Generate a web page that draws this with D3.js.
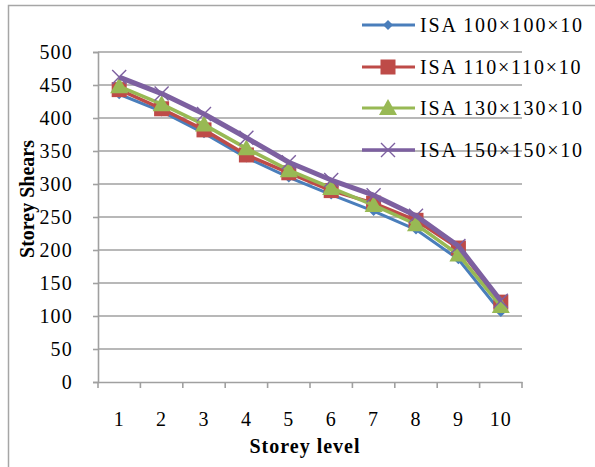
<!DOCTYPE html>
<html>
<head>
<meta charset="utf-8">
<script src="https://cdn.jsdelivr.net/npm/d3@7"></script>
<style>
  html, body { margin: 0; padding: 0; background: #fff; }
  svg { display: block; }
  text { font-family: "Liberation Serif", "Times New Roman", serif; fill: #000; }
</style>
</head>
<body>
<svg id="chart" width="595" height="467"></svg>
<script>
// Storey levels along the x axis
const storeys = [1, 2, 3, 4, 5, 6, 7, 8, 9, 10];

// Storey shear for each angle section
const isa100 = [436, 410, 377, 340, 310, 284, 259, 231, 186, 106];
const isa110 = [443, 414, 382, 344, 317, 290, 271, 245, 203, 121];
const isa130 = [448, 421, 390, 354, 321, 294, 268, 239, 193, 115];
const isa150 = [462, 437, 406, 370, 333, 306, 283, 252, 206, 123];

const seriesNames = ["ISA 100×100×10", "ISA 110×110×10", "ISA 130×130×10", "ISA 150×150×10"];
const yTicks = [0, 50, 100, 150, 200, 250, 300, 350, 400, 450, 500];

const series = [
  { name: seriesNames[0], values: isa100, color: "#4a7ebb", marker: "diamond", width: 3 },
  { name: seriesNames[1], values: isa110, color: "#be4b48", marker: "square", width: 3.5 },
  { name: seriesNames[2], values: isa130, color: "#98b954", marker: "triangle", width: 3.5 },
  { name: seriesNames[3], values: isa150, color: "#7d60a0", marker: "cross", width: 5 }
];

const gridColor = "#a0a0a0";
const svg = d3.select("#chart");

// outer chart border
svg.append("rect")
  .attr("x", 8.5).attr("y", 5.5)
  .attr("width", 600).attr("height", 500)
  .attr("fill", "none").attr("stroke", "#a6a6a6").attr("stroke-width", 1.5);

const plot = { left: 98, right: 522, top: 52, bottom: 382 };

const x = d3.scaleBand().domain(storeys).range([plot.left, plot.right]);
const y = d3.scaleLinear().domain([0, 500]).range([plot.bottom, plot.top]);

// horizontal gridlines
svg.append("g")
  .selectAll("line")
  .data(yTicks.filter(d => d > 0))
  .join("line")
  .attr("x1", plot.left).attr("x2", plot.right)
  .attr("y1", d => y(d)).attr("y2", d => y(d))
  .attr("stroke", gridColor).attr("stroke-width", 1.6);

// y axis
const yAxis = svg.append("g")
  .attr("transform", `translate(${plot.left},0)`)
  .call(d3.axisLeft(y).tickValues(yTicks).tickSize(5).tickPadding(20));
yAxis.select(".domain").attr("stroke", gridColor).attr("stroke-width", 1.6);
yAxis.selectAll(".tick line").attr("stroke", gridColor).attr("stroke-width", 1.6);
yAxis.selectAll(".tick text")
  .attr("font-family", "Liberation Serif, serif")
  .attr("font-size", 20).attr("letter-spacing", 1.2).attr("fill", "#000");

// x axis with ticks at category boundaries
const xAxis = svg.append("g")
  .attr("transform", `translate(0,${plot.bottom})`)
  .call(d3.axisBottom(x).tickSize(0).tickPadding(30));
xAxis.select(".domain").attr("stroke", gridColor).attr("stroke-width", 1.6);
xAxis.selectAll(".tick text")
  .attr("font-family", "Liberation Serif, serif")
  .attr("font-size", 20).attr("letter-spacing", 1).attr("fill", "#000");
xAxis.append("g")
  .selectAll("line")
  .data(storeys.map(s => x(s)).concat([x(storeys[storeys.length - 1]) + x.bandwidth()]))
  .join("line")
  .attr("x1", d => d).attr("x2", d => d)
  .attr("y1", 0).attr("y2", 6)
  .attr("stroke", gridColor).attr("stroke-width", 1.6);

// axis titles
svg.append("text")
  .attr("x", 305).attr("y", 453)
  .attr("text-anchor", "middle")
  .attr("font-size", 20).attr("font-weight", "bold")
  .attr("letter-spacing", 1)
  .text("Storey level");

svg.append("text")
  .attr("transform", "translate(34,199) rotate(-90)")
  .attr("text-anchor", "middle")
  .attr("font-size", 20).attr("font-weight", "bold")
  .attr("letter-spacing", 0)
  .text("Storey Shears");

// marker shapes
function drawMarker(g, type, color) {
  if (type === "diamond") {
    g.append("path").attr("d", "M0,-5L5,0L0,5L-5,0Z").attr("fill", color);
  } else if (type === "square") {
    g.append("rect").attr("x", -7.5).attr("y", -7.5).attr("width", 15).attr("height", 15).attr("fill", color);
  } else if (type === "triangle") {
    g.append("path").attr("d", "M0,-9L9,7L-9,7Z").attr("fill", color);
  } else if (type === "cross") {
    g.append("path").attr("d", "M-7,-7L7,7M-7,7L7,-7").attr("stroke", color).attr("stroke-width", 1.4).attr("fill", "none");
  }
}

const line = d3.line()
  .x((d, i) => x(storeys[i]) + x.bandwidth() / 2)
  .y(d => y(d));

series.forEach(s => {
  const g = svg.append("g");
  g.append("path")
    .attr("d", line(s.values))
    .attr("fill", "none")
    .attr("stroke", s.color)
    .attr("stroke-width", s.width)
    .attr("stroke-linejoin", "round");
  s.values.forEach((v, i) => {
    const m = g.append("g").attr("transform", `translate(${x(storeys[i]) + x.bandwidth() / 2},${y(v)})`);
    drawMarker(m, s.marker, s.color);
  });
});

// legend
const legend = svg.append("g");
const legendY = [25, 67, 108, 150];
series.forEach((s, i) => {
  const g = legend.append("g").attr("transform", `translate(0,${legendY[i]})`);
  g.append("line")
    .attr("x1", 362).attr("x2", 415).attr("y1", 0).attr("y2", 0)
    .attr("stroke", s.color).attr("stroke-width", i === 3 ? 3.5 : 3);
  const m = g.append("g").attr("transform", "translate(388,0)");
  drawMarker(m, s.marker, s.color);
  g.append("text")
    .attr("x", 420).attr("y", 7)
    .attr("font-size", 20)
    .attr("letter-spacing", 1.8)
    .text(s.name);
});
</script>
</body>
</html>
